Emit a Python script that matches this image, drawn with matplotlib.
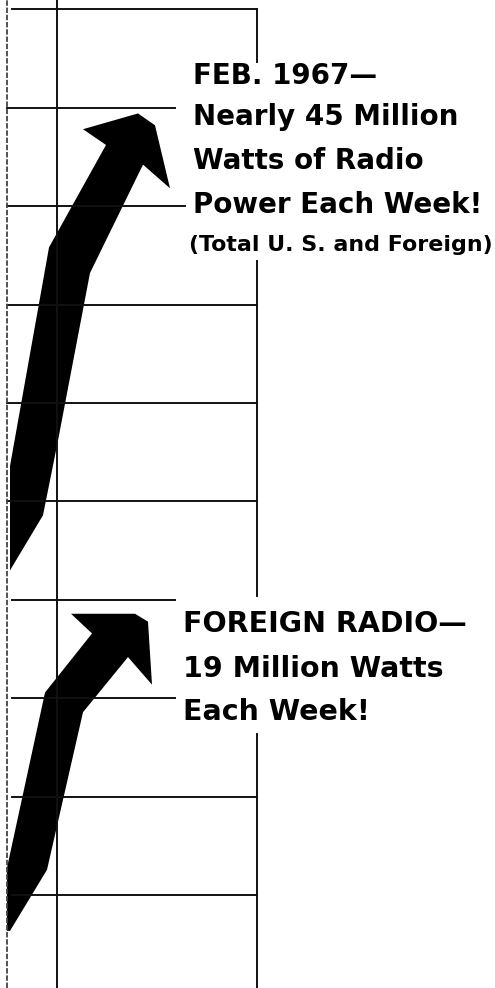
import matplotlib
matplotlib.use("Agg")
import matplotlib.pyplot as plt
from matplotlib.patches import Polygon

# Skala: sumbu y = juta watt (garis tiap 5), sumbu x = kolom waktu
garis_y = [5, 10, 15, 20, 25, 30, 35, 40, 45, 50]
garis_x_kanan = [5.0, 5.0, 3.36, 3.36, 5.0, 5.0, 5.0, 3.56, 3.36, 5.0]
garis_x_kiri = [0.1, 0.1, 0.1, 0.1, 0.0, 0.0, 0.0, 0.0, 0.0, 0.1]

# Garis vertikal kanan terputus oleh teks
vertikal_kanan = [(50.0, 47.3), (37.2, 20.2), (13.2, 0.3)]

# Panah total (A.S. + luar negeri) -> hampir 45 juta watt
total_x = [0.06, 0.72, 1.02, 1.66, 2.72, 3.26, 2.96, 2.62, 1.52, 1.98, 0.84, 0.06]
total_y = [21.5, 24.3, 28.1, 36.6, 42.1, 40.9, 44.1, 44.7, 43.9, 43.1, 37.9, 26.8]

# Panah radio luar negeri -> 19 juta watt
asing_x = [0.06, 0.80, 1.52, 2.42, 2.90, 2.82, 2.56, 1.28, 1.70, 0.76, 0.0, 0.0]
asing_y = [3.2, 6.3, 14.3, 17.1, 15.7, 18.9, 19.3, 19.3, 18.3, 15.3, 6.4, 3.2]

teks_atas = ["FEB. 1967\u2014", "Nearly 45 Million", "Watts of Radio", "Power Each Week!"]
teks_atas_y = [46.6, 44.5, 42.3, 40.05]
teks_catatan = "(Total U. S. and Foreign)"
teks_bawah = ["FOREIGN RADIO\u2014", "19 Million Watts", "Each Week!"]
teks_bawah_y = [18.8, 16.5, 14.3]

fig = plt.figure(figsize=(4.95, 9.88), dpi=100)
ax = fig.add_axes([0, 0, 1, 1])
ax.set_xlim(-0.14, 9.76)
ax.set_ylim(0.3, 50.46)
ax.axis("off")

# Grid
for y, x0, x1 in zip(garis_y, garis_x_kiri, garis_x_kanan):
    ax.plot([x0, x1], [y, y], color="#111111", lw=1.4)
ax.axvline(0, color="#444444", lw=1.3, ls=(0, (3, 1)))
ax.axvline(1, color="#111111", lw=1.4)
for y0, y1 in vertikal_kanan:
    ax.plot([5, 5], [y0, y1], color="#111111", lw=1.4)

# Panah
for xs, ys in [(total_x, total_y), (asing_x, asing_y)]:
    ax.add_patch(Polygon(list(zip(xs, ys)), closed=True, color="black", lw=0))

huruf = ["DejaVu Sans"]
for t, y in zip(teks_atas, teks_atas_y):
    ax.text(3.72, y, t, fontsize=20, fontweight="bold", family=huruf, va="center", ha="left")
ax.text(3.64, 38.0, teks_catatan, fontsize=15.9, fontweight="bold", family=huruf, va="center", ha="left")
for t, y in zip(teks_bawah, teks_bawah_y):
    ax.text(3.52, y, t, fontsize=20.5, fontweight="bold", family=huruf, va="center", ha="left")

plt.savefig("out.png", dpi=100)
